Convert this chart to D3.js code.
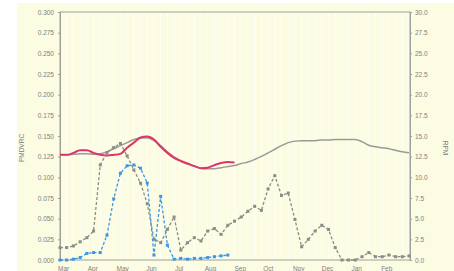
<!DOCTYPE html>
<html>
<head>
<meta charset="utf-8">
<script src="https://cdn.jsdelivr.net/npm/d3@7"></script>
<style>
  html, body { margin: 0; padding: 0; background: #ffffff; }
  svg { display: block; font-family: "Liberation Sans", Arial, sans-serif; }
</style>
</head>
<body>
<div id="chart"></div>
<script>
// Week index (weeks since 1 March) for each series
const startDate = new Date(2009, 2, 1);
const monthLabels = ["Mar", "Apr", "May", "Jun", "Jul", "Aug", "Sep", "Oct", "Nov", "Dec", "Jan", "Feb"];
const leftTicks = [0, 0.025, 0.05, 0.075, 0.1, 0.125, 0.15, 0.175, 0.2, 0.225, 0.25, 0.275, 0.3];
const rightTicks = [0, 2.5, 5, 7.5, 10, 12.5, 15, 17.5, 20, 22.5, 25, 27.5, 30];

// left axis series
const grayDashed = [0.015, 0.015, 0.017, 0.022, 0.027, 0.035, 0.115, 0.130, 0.136, 0.141,
    0.126, 0.109, 0.093, 0.068, 0.025, 0.021, 0.037, 0.052, 0.012, 0.021,
    0.027, 0.023, 0.035, 0.038, 0.031, 0.042, 0.047, 0.052, 0.059, 0.065,
    0.060, 0.086, 0.102, 0.078, 0.081, 0.049, 0.016, 0.025, 0.035, 0.042,
    0.037, 0.015, 0, 0, 0, 0.004, 0.009, 0.004, 0.004, 0.006,
    0.004, 0.004, 0.005];
const blueDashed = [0, 0, 0.001, 0.003, 0.008, 0.009, 0.009, 0.030, 0.074, 0.105,
    0.114, 0.115, 0.111, 0.093, 0.006, 0.077, 0.018, 0.001, 0.002, 0.001,
    0.002, 0.002, 0.003, 0.004, 0.005, 0.006];

// right axis series
const graySolid = [12.72, 12.72, 12.78, 12.84, 12.84, 12.78, 12.84, 13.09, 13.46, 13.83,
    14.20, 14.57, 14.75, 14.75, 14.44, 13.83, 13.09, 12.47, 11.98, 11.60,
    11.36, 11.11, 11.05, 11.05, 11.17, 11.30, 11.42, 11.67, 11.85, 12.16,
    12.53, 12.96, 13.40, 13.83, 14.20, 14.38, 14.44, 14.44, 14.44, 14.51,
    14.51, 14.57, 14.57, 14.57, 14.57, 14.32, 13.89, 13.70, 13.58, 13.46,
    13.27, 13.09, 12.96];
const redSolid = [12.72, 12.72, 12.96, 13.27, 13.27, 12.96, 12.72, 12.65, 12.72, 12.84,
    13.58, 14.20, 14.81, 14.94, 14.57, 13.70, 12.96, 12.35, 11.98, 11.67,
    11.36, 11.11, 11.17, 11.48, 11.73, 11.85, 11.79];

const W = 454, H = 271;
const margin = { top: 12, right: 44, bottom: 11, left: 60 };
const plotW = W - margin.left - margin.right;
const plotH = H - margin.top - margin.bottom;

const svg = d3.select("#chart").append("svg")
    .attr("width", W)
    .attr("height", H);

// cream background
svg.append("rect")
    .attr("x", 17).attr("y", 3)
    .attr("width", W - 17).attr("height", H - 3)
    .attr("fill", "#fcfce3");

const g = svg.append("g")
    .attr("transform", `translate(${margin.left},${margin.top})`);

const weekDate = i => d3.timeDay.offset(startDate, i * 7);

const x = d3.scaleTime()
    .domain([startDate, new Date(2010, 2, 1)])
    .range([0, plotW]);

const yL = d3.scaleLinear().domain([0, 0.3]).range([plotH, 0]);
const yR = d3.scaleLinear().domain([0, 30]).range([plotH, 0]);

// faint vertical grid lines (weekly)
g.append("g")
    .selectAll("line")
    .data(d3.range(1, 53))
    .join("line")
    .attr("x1", d => x(weekDate(d)))
    .attr("x2", d => x(weekDate(d)))
    .attr("y1", 0)
    .attr("y2", plotH)
    .attr("stroke", "#ffffff")
    .attr("stroke-width", 1)
    .attr("opacity", 0.7);

// frame
g.append("rect")
    .attr("width", plotW)
    .attr("height", plotH)
    .attr("fill", "none")
    .attr("stroke", "#a0a09a")
    .attr("stroke-width", 1);

// left axis
const leftAxis = g.append("g")
    .call(d3.axisLeft(yL).tickValues(leftTicks).tickFormat(d3.format(".3f")).tickSize(2));
leftAxis.select(".domain").attr("stroke", "#a0a09a");
leftAxis.selectAll(".tick line").attr("stroke", "#a0a09a");
leftAxis.selectAll("text")
    .attr("fill", "#808080")
    .attr("font-size", 6.5)
    .attr("x", -6);

// right axis
const rightAxis = g.append("g")
    .attr("transform", `translate(${plotW},0)`)
    .call(d3.axisRight(yR).tickValues(rightTicks).tickFormat(d3.format(".1f")).tickSize(2));
rightAxis.select(".domain").attr("stroke", "#a0a09a");
rightAxis.selectAll(".tick line").attr("stroke", "#a0a09a");
rightAxis.selectAll("text")
    .attr("fill", "#808080")
    .attr("font-size", 6.5)
    .attr("x", 5);

// month labels
const months = d3.timeMonth.range(startDate, new Date(2010, 2, 1));
g.append("g")
    .selectAll("text")
    .data(months)
    .join("text")
    .attr("x", d => x(d) - 2)
    .attr("y", plotH + 11)
    .attr("fill", "#808080")
    .attr("font-size", 6.5)
    .text((d, i) => monthLabels[i]);

// axis titles
svg.append("text")
    .attr("transform", `translate(24,148) rotate(-90)`)
    .attr("text-anchor", "middle")
    .attr("fill", "#808080")
    .attr("font-size", 6.5)
    .text("PMDVRC");

svg.append("text")
    .attr("transform", `translate(443,148) rotate(90)`)
    .attr("text-anchor", "middle")
    .attr("fill", "#808080")
    .attr("font-size", 6.5)
    .text("RPM");

// solid lines (right axis)
const lineR = d3.line()
    .x((d, i) => x(weekDate(i)))
    .y(d => yR(d))
    .curve(d3.curveMonotoneX);

g.append("path")
    .datum(graySolid)
    .attr("d", lineR)
    .attr("fill", "none")
    .attr("stroke", "#9a9a96")
    .attr("stroke-width", 1.5);

g.append("path")
    .datum(redSolid)
    .attr("d", lineR)
    .attr("fill", "none")
    .attr("stroke", "#e0336b")
    .attr("stroke-width", 2);

// dashed lines with markers (left axis)
const lineL = d3.line()
    .x((d, i) => x(weekDate(i)))
    .y(d => yL(d));

function dashedSeries(data, color) {
    g.append("path")
        .datum(data)
        .attr("d", lineL)
        .attr("fill", "none")
        .attr("stroke", color)
        .attr("stroke-width", 1.3)
        .attr("stroke-dasharray", "3,2");

    g.append("g")
        .selectAll("rect")
        .data(data)
        .join("rect")
        .attr("x", (d, i) => x(weekDate(i)) - 1.5)
        .attr("y", d => yL(d) - 1.5)
        .attr("width", 3)
        .attr("height", 3)
        .attr("fill", color);
}

dashedSeries(grayDashed, "#8c8c88");
dashedSeries(blueDashed, "#3b97e6");
</script>
</body>
</html>
